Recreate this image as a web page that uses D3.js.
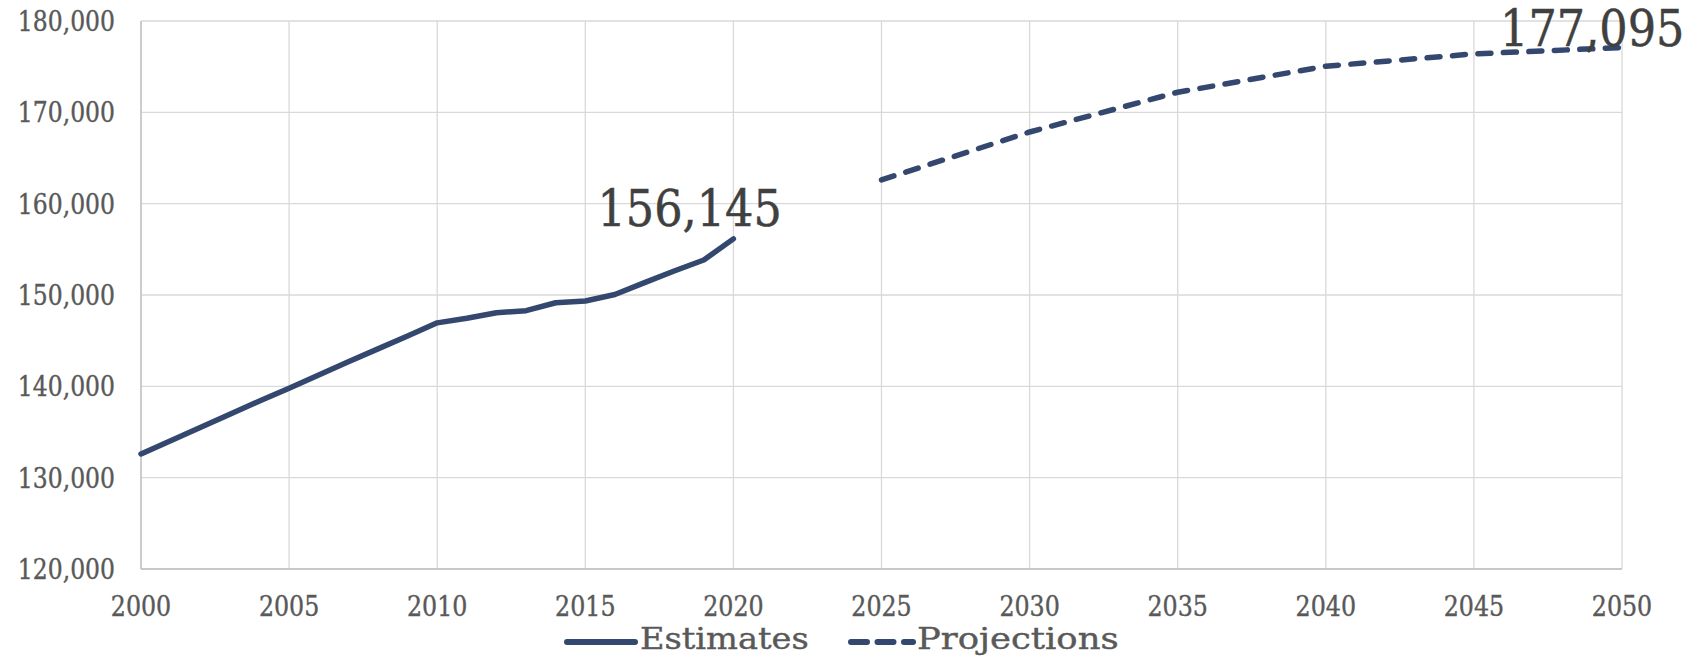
<!DOCTYPE html>
<html>
<head>
<meta charset="utf-8">
<script src="https://cdn.jsdelivr.net/npm/d3@7"></script>
<style>
  body { margin: 0; background: #fff; }
  text { font-family: "DejaVu Serif", serif; }
</style>
</head>
<body>
<svg id="chart" width="1701" height="657"></svg>
<script>
// Estimates (annual) and projections (5-year)
const estimateYears = [2000, 2001, 2002, 2003, 2004, 2005, 2006, 2007, 2008, 2009, 2010,
  2011, 2012, 2013, 2014, 2015, 2016, 2017, 2018, 2019, 2020];
const estimateValues = [132600, 134050, 135500, 136950, 138400, 139800, 141250, 142700, 144100, 145500, 146950,
  147450, 148050, 148280, 149150, 149350, 150050, 151350, 152630, 153830, 156145];
const projectionYears = [2025, 2030, 2035, 2040, 2045, 2050];
const projectionValues = [162600, 167850, 172200, 175050, 176400, 177095];
const seriesNames = ['Estimates', 'Projections'];
const endLabels = ['156,145', '177,095'];
const xTicks = [2000, 2005, 2010, 2015, 2020, 2025, 2030, 2035, 2040, 2045, 2050];
const yTicks = [120000, 130000, 140000, 150000, 160000, 170000, 180000];

const W = 1701, H = 657;
const margin = { top: 21, right: 79, bottom: 88, left: 141 };
const lineColor = '#34486f';
const labelGray = '#595959';

const svg = d3.select('#chart');

const x = d3.scaleLinear().domain([2000, 2050]).range([margin.left, W - margin.right]);
const y = d3.scaleLinear().domain([120000, 180000]).range([H - margin.bottom, margin.top]);

// Gridlines
svg.append('g')
  .selectAll('line')
  .data(yTicks)
  .join('line')
  .attr('x1', x(2000)).attr('x2', x(2050))
  .attr('y1', d => y(d)).attr('y2', d => y(d))
  .attr('stroke', '#d9d9d9').attr('stroke-width', 1.3);

svg.append('g')
  .selectAll('line')
  .data(xTicks)
  .join('line')
  .attr('x1', d => x(d)).attr('x2', d => x(d))
  .attr('y1', y(120000)).attr('y2', y(180000))
  .attr('stroke', '#d9d9d9').attr('stroke-width', 1.3);

// Axis lines
svg.append('line')
  .attr('x1', x(2000)).attr('x2', x(2000))
  .attr('y1', y(120000)).attr('y2', y(180000))
  .attr('stroke', '#bfbfbf').attr('stroke-width', 1.3);
svg.append('line')
  .attr('x1', x(2000)).attr('x2', x(2050))
  .attr('y1', y(120000)).attr('y2', y(120000))
  .attr('stroke', '#bfbfbf').attr('stroke-width', 1.3);

// Y tick labels
svg.append('g')
  .selectAll('text')
  .data(yTicks)
  .join('text')
  .attr('transform', d => `translate(115,${y(d)}) scale(0.84,1)`)
  .attr('text-anchor', 'end')
  .attr('dy', '0.36em')
  .attr('fill', labelGray)
  .attr('stroke', labelGray).attr('stroke-width', 0.4)
  .style('font-size', '28px')
  .text(d => d3.format(',')(d));

// X tick labels
svg.append('g')
  .selectAll('text')
  .data(xTicks)
  .join('text')
  .attr('transform', d => `translate(${x(d)},615.5) scale(0.88,1)`)
  .attr('text-anchor', 'middle')
  .attr('fill', labelGray)
  .attr('stroke', labelGray).attr('stroke-width', 0.4)
  .style('font-size', '27px')
  .text(d => d);

// Lines
const line = d3.line().x(d => x(d[0])).y(d => y(d[1]));

svg.append('path')
  .datum(d3.zip(estimateYears, estimateValues))
  .attr('fill', 'none')
  .attr('stroke', lineColor)
  .attr('stroke-width', 5.5)
  .attr('stroke-linejoin', 'round')
  .attr('stroke-linecap', 'round')
  .attr('d', line);

svg.append('path')
  .datum(d3.zip(projectionYears, projectionValues))
  .attr('fill', 'none')
  .attr('stroke', lineColor)
  .attr('stroke-width', 5.5)
  .attr('stroke-linejoin', 'round')
  .attr('stroke-linecap', 'round')
  .attr('stroke-dasharray', '13,12.5')
  .attr('d', line);

// End-point data labels
const lastEst = estimateValues[estimateValues.length - 1];
const lastProj = projectionValues[projectionValues.length - 1];
svg.append('text')
  .attr('transform', `translate(${x(2020) - 136},${y(lastEst) - 13}) scale(0.875,1)`)
  .attr('fill', '#404040')
  .attr('stroke', '#404040').attr('stroke-width', 0.5)
  .style('font-size', '51px')
  .text(endLabels[0]);
svg.append('text')
  .attr('transform', `translate(${x(2050) - 122},${y(lastProj) - 2}) scale(0.875,1)`)
  .attr('fill', '#404040')
  .attr('stroke', '#404040').attr('stroke-width', 0.5)
  .style('font-size', '51px')
  .text(endLabels[1]);

// Legend
const legendY = 642;
const legend = svg.append('g');
legend.append('line')
  .attr('x1', 567).attr('x2', 635).attr('y1', legendY).attr('y2', legendY)
  .attr('stroke', lineColor).attr('stroke-width', 6).attr('stroke-linecap', 'round');
legend.append('text')
  .attr('transform', `translate(640,649) scale(1.14,1)`)
  .attr('fill', labelGray)
  .attr('stroke', labelGray).attr('stroke-width', 0.4)
  .style('font-size', '29.5px')
  .text(seriesNames[0]);
legend.append('line')
  .attr('x1', 851).attr('x2', 913).attr('y1', legendY).attr('y2', legendY)
  .attr('stroke', lineColor).attr('stroke-width', 6).attr('stroke-linecap', 'round')
  .attr('stroke-dasharray', '16,10.5');
legend.append('text')
  .attr('transform', `translate(917,649) scale(1.2,1)`)
  .attr('fill', labelGray)
  .attr('stroke', labelGray).attr('stroke-width', 0.4)
  .style('font-size', '29.5px')
  .text(seriesNames[1]);
</script>
</body>
</html>
